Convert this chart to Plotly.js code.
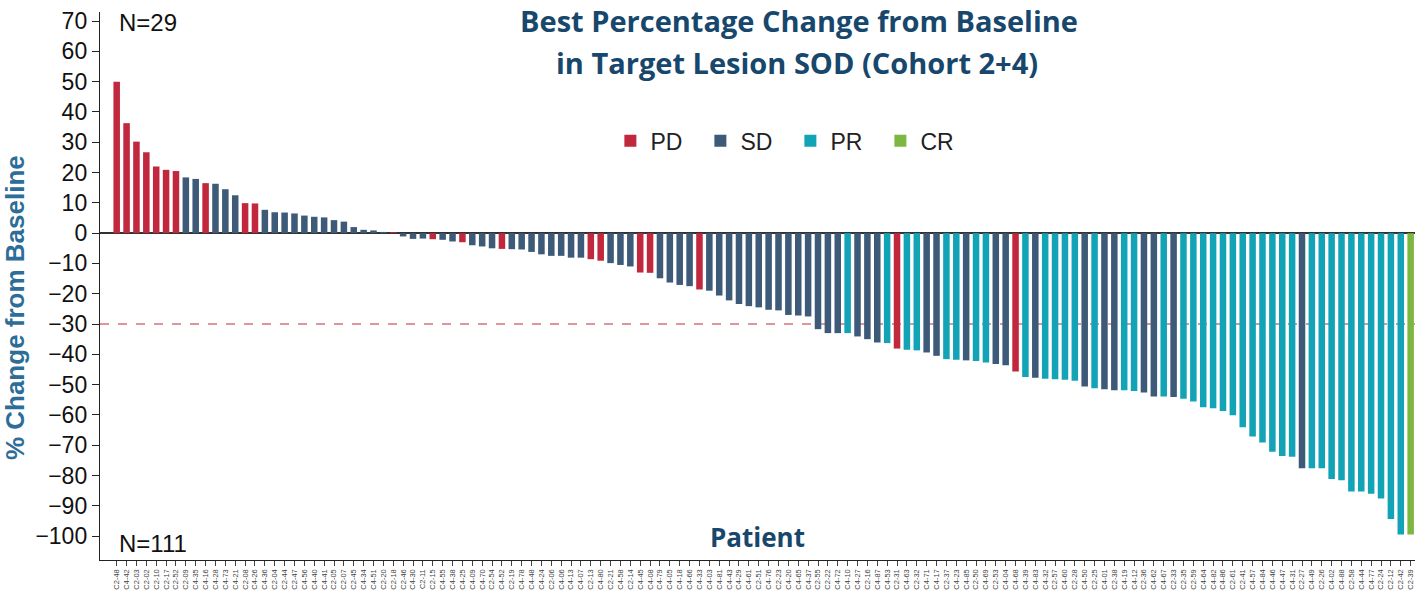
<!DOCTYPE html>
<html>
<head>
<meta charset="utf-8">
<script src="https://cdn.plot.ly/plotly-3.0.1.min.js"></script>
<style>html,body{margin:0;padding:0;background:#fff;}#chart{width:1419px;height:606px;}</style>
</head>
<body>
<div id="chart"></div>
<script>
// Patient IDs (x-axis tick labels), in plotted order
const patients = [
"C2-48","C4-42","C2-03","C2-02","C2-10","C2-17","C2-52","C2-09","C4-35","C4-16",
"C4-28","C4-73","C4-21","C2-08","C4-26","C4-36","C2-04","C2-44","C2-47","C4-56",
"C4-40","C4-41","C2-05","C2-07","C2-45","C4-34","C4-51","C2-20","C2-18","C2-46",
"C4-30","C2-11","C2-15","C4-55","C4-38","C4-25","C4-09","C4-70","C2-54","C4-52",
"C2-19","C4-78","C4-48","C4-24","C2-06","C4-06","C4-13","C4-07","C2-13","C4-80",
"C2-21","C4-58","C2-14","C4-45","C4-08","C4-79","C4-05","C4-18","C4-66","C4-33",
"C4-03","C4-81","C4-43","C4-29","C4-61","C2-51","C4-76","C2-23","C4-20","C4-65",
"C4-37","C2-55","C2-22","C4-72","C4-10","C4-27","C2-16","C4-87","C4-53","C2-31",
"C4-63","C2-32","C4-71","C4-17","C2-37","C4-23","C4-85","C2-50","C4-69","C2-53",
"C4-04","C4-68","C4-39","C4-83","C4-32","C2-57","C4-60","C2-28","C4-50","C2-25",
"C4-01","C2-38","C4-19","C4-12","C2-36","C4-62","C4-67","C2-33","C2-35","C2-59",
"C4-64","C4-82","C4-86","C2-61","C2-41","C4-57","C4-84","C4-46","C4-47","C4-31",
"C2-27","C4-49","C2-26","C4-02","C4-88","C2-58","C4-44","C4-77","C2-24","C2-12",
"C2-42","C2-39"];

// Best % change from baseline in target lesion SOD
const pctChange = [
50,36.3,30.2,26.7,22.0,20.9,20.5,18.4,17.9,16.5,
16.3,14.5,12.5,9.9,9.8,7.7,6.9,6.8,6.5,5.8,
5.4,5.2,4.3,3.8,2.0,1.1,0.9,0.4,0.3,-1.1,
-1.9,-1.8,-2.0,-2.2,-2.75,-3.0,-4.0,-4.4,-5.0,-5.2,
-5.3,-5.4,-6.2,-7.0,-7.5,-7.5,-8.1,-8.1,-8.6,-9.1,
-9.9,-10.5,-11.0,-13.0,-13.1,-14.9,-16.3,-17.1,-17.5,-18.6,
-19.0,-20.6,-22.2,-23.4,-24.1,-24.5,-25.3,-25.5,-27.0,-27.2,
-27.5,-31.7,-33.0,-33.0,-33.0,-34.1,-35.0,-36.1,-36.3,-38.1,
-38.5,-38.7,-39.4,-40.5,-41.6,-41.8,-42.0,-42.2,-42.7,-43.2,
-43.6,-45.7,-47.5,-47.7,-48.1,-48.2,-48.4,-48.7,-50.6,-51.2,
-51.5,-51.9,-51.9,-52.1,-52.6,-53.9,-53.9,-54.1,-54.7,-55.6,
-57.5,-57.8,-58.7,-60.1,-64.1,-67.1,-69.1,-72.2,-73.6,-73.8,
-77.6,-77.6,-77.6,-81.2,-81.6,-85.3,-85.3,-86.0,-87.6,-94.4,
-99.5,-99.5];

// Best overall response per patient
const response = [
"PD","PD","PD","PD","PD","PD","PD","SD","SD","PD",
"SD","SD","SD","PD","PD","SD","SD","SD","SD","SD",
"SD","SD","SD","SD","SD","SD","SD","SD","PD","SD",
"SD","SD","PD","SD","SD","PD","SD","SD","SD","PD",
"SD","SD","SD","SD","SD","SD","SD","SD","PD","PD",
"SD","SD","SD","PD","PD","SD","SD","SD","SD","PD",
"SD","SD","SD","SD","SD","SD","SD","SD","SD","SD",
"SD","SD","SD","SD","PR","SD","SD","SD","PR","PD",
"PR","PR","SD","SD","PR","PR","SD","PR","PR","SD",
"SD","PD","PR","SD","PR","PR","PR","PR","SD","PR",
"SD","SD","PR","PR","SD","SD","PR","SD","PR","PR",
"PR","PR","PR","PR","PR","PR","PR","PR","PR","PR",
"SD","PR","PR","PR","PR","PR","PR","PR","PR","PR",
"PR","CR"];

const categories = ["PD","SD","PR","CR"];
const colors = {PD:"#c1273d", SD:"#3d5a78", PR:"#12a4b6", CR:"#7cb742"};

const idx = patients.map((_, i) => i);
const traces = categories.map(cat => {
  const xs = [], ys = [];
  idx.forEach(i => { if (response[i] === cat) { xs.push(i); ys.push(pctChange[i]); } });
  return {
    type: "bar", name: cat, x: xs, y: ys,
    marker: {color: colors[cat], line: {width: 0}},
    width: 0.66, hoverinfo: "x+y+name"
  };
});

const titleColor = "#17476c";
const sans = "Liberation Sans, Arial, sans-serif";
const px = v => (v - 100) / 1315;      // page x -> paper x
const py = v => (560 - v) / 548;       // page y -> paper y
const layout = {
  width: 1419, height: 606,
  margin: {l: 100, r: 4, t: 12, b: 46, pad: 0},
  paper_bgcolor: "#ffffff", plot_bgcolor: "#ffffff",
  barmode: "overlay",
  showlegend: true,
  title: {
    text: "<b>Best Percentage Change from Baseline</b>",
    font: {family: "Open Sans, sans-serif", size: 29, color: titleColor},
    x: px(799), xref: "paper", xanchor: "center",
    y: 1 - 22 / 606, yref: "container", yanchor: "middle"
  },
  legend: {
    orientation: "h", x: 0.525, xanchor: "center", y: 0.765, yanchor: "middle",
    font: {family: sans, size: 23, color: "#222"},
    bgcolor: "rgba(0,0,0,0)", traceorder: "normal",
    entrywidth: 45, entrywidthmode: "pixels", itemclick: false
  },
  xaxis: {
    range: [-1.69, 131.44],
    tickmode: "array", tickvals: idx, ticktext: patients,
    tickangle: -90,
    tickfont: {family: sans, size: 7.5, color: "#444"},
    ticks: "outside", ticklen: 5, tickwidth: 1, tickcolor: "#444",
    showline: true, linecolor: "#222", linewidth: 1.2,
    showgrid: false, zeroline: false, fixedrange: true
  },
  yaxis: {
    range: [-107.9, 73],
    tickmode: "linear", tick0: 0, dtick: 10,
    tickfont: {family: sans, size: 23, color: "#111"},
    ticks: "outside", ticklen: 7, tickwidth: 1, tickcolor: "#222",
    showline: true, linecolor: "#222", linewidth: 1.2,
    showgrid: false,
    zeroline: true, zerolinecolor: "#333", zerolinewidth: 1.5,
    title: {text: "<b>% Change from Baseline</b>" + "&nbsp;".repeat(6), standoff: 6,
      font: {family: sans, size: 26, color: "#2c6e98"}},
    fixedrange: true
  },
  shapes: [{
    type: "line", xref: "paper", x0: 0, x1: 1, yref: "y", y0: -30, y1: -30,
    line: {color: "#d8707f", width: 1.3, dash: "dash"}, layer: "below"
  }],
  annotations: [
    {text: "<b>in Target Lesion SOD (Cohort 2+4)</b>", xref: "paper", yref: "paper",
     x: px(797), y: py(62), xanchor: "center", yanchor: "middle",
     showarrow: false, font: {family: "Open Sans, sans-serif", size: 29, color: titleColor}},
    {text: "N=29", xref: "paper", yref: "paper", x: 0.013, y: py(22), xanchor: "left", yanchor: "middle",
     showarrow: false, font: {family: sans, size: 24, color: "#111"}},
    {text: "N=111", xref: "paper", yref: "paper", x: 0.013, y: py(543), xanchor: "left", yanchor: "middle",
     showarrow: false, font: {family: sans, size: 24, color: "#111"}},
    {text: "<b>Patient</b>", xref: "paper", yref: "paper", x: px(757), y: py(537),
     xanchor: "center", yanchor: "middle",
     showarrow: false, font: {family: "Open Sans, sans-serif", size: 26, color: titleColor}}
  ]
};

Plotly.newPlot("chart", traces, layout, {displayModeBar: false, staticPlot: true});
</script>
</body>
</html>
